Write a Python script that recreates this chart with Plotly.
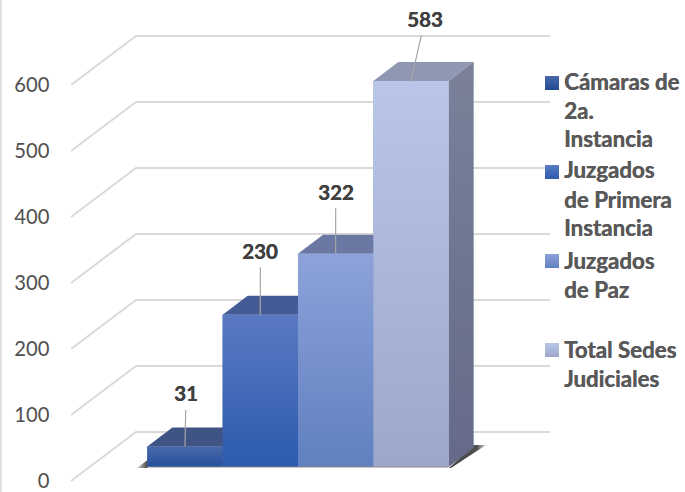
import plotly.graph_objects as go

categories = ["Cámaras de 2a. Instancia", "Juzgados de Primera Instancia", "Juzgados de Paz", "Total Sedes Judiciales"]
values = [31, 230, 322, 583]
tick_values = [0, 100, 200, 300, 400, 500, 600]
legend_lines = [["Cámaras de", "2a.", "Instancia"], ["Juzgados", "de Primera", "Instancia"], ["Juzgados", "de Paz"], ["Total Sedes", "Judiciales"]]
legend_line_px = [[81, 110, 139], [169, 199, 228], [260, 289], [349, 378]]
legend_swatch_px = [76, 165, 254, 343]
label_offsets = [(1, -53), (0, -64), (0, -62), (14, -62)]

front_colors = [
    ["#4a69aa", "#24509c"], ["#5a7ac2", "#2c5aad"], ["#8da2da", "#6080c0"], ["#bac6e8", "#9ca7cc"]]
top_colors = ["#3f5385", "#445b95", "#6a78a3", "#9097b2"]
side_colors = [["#3a4c7c", "#2c3e6c"], ["#3f5590", "#2f4780"], ["#5f7099", "#4f5f8a"], ["#7a8199", "#646a88"]]
swatch_colors = [["#4a69aa", "#1f4a90"], ["#5a7ac2", "#2c5aad"], ["#8da2da", "#6080c0"], ["#bac6e8", "#9ca7cc"]]

W, H = 685, 492
X0, XU = 185.0, 75.33
Y0, YU = 481.0, 0.66       # front plane of the value axis
B0, BU = 467.0, 0.662      # bar plane
DX, DY = 25 / XU, 19 / BU

xr = [(0 - X0) / XU, (W - X0) / XU]
yr = [(Y0 - H) / YU, Y0 / YU]
y2r = [(B0 - H) / BU, B0 / BU]


def xp(px):
    return (px - X0) / XU


def y2p(py):
    return (B0 - py) / BU


fig = go.Figure()

# gridlines: front-left diagonal then back wall
gx, gy = [], []
for v in tick_values:
    gx += [xp(71), xp(136), xp(550), None]
    gy += [v, v + 49 / YU, v + 49 / YU, None]
fig.add_trace(go.Scatter(x=gx, y=gy, mode="lines", line=dict(color="#d9d9d9", width=2), hoverinfo="skip", showlegend=False))

# plain bars
for i, (c, v) in enumerate(zip(categories, values)):
    fig.add_trace(go.Bar(x=[i], y=[v], width=1, yaxis="y2", name=c, marker=dict(color=front_colors[i][1], line=dict(width=0)), showlegend=False))


def poly(xs, ys, top, bottom):
    fig.add_trace(go.Scatter(
        x=xs, y=ys, yaxis="y2", mode="none", fill="toself", hoverinfo="skip", showlegend=False,
        fillgradient=dict(type="vertical", colorscale=[[0, bottom], [1, top]])))


# base shadows
fig.add_trace(go.Scatter(x=[xp(137), xp(147.5), xp(147.5), xp(137)], y=[y2p(468), y2p(460), y2p(468), y2p(468)], yaxis="y2", mode="none", fill="toself", hoverinfo="skip", showlegend=False,
                         fillgradient=dict(type="horizontal", colorscale=[[0, "#d8d8d8"], [1, "#444444"]])))
fig.add_trace(go.Scatter(x=[xp(449), xp(474), xp(486), xp(451), xp(449)], y=[y2p(468), y2p(445), y2p(445), y2p(468), y2p(468)], yaxis="y2", mode="none", fill="toself", hoverinfo="skip", showlegend=False,
                         fillgradient=dict(type="horizontal", colorscale=[[0, "#444444"], [0.75, "#505050"], [1, "#d8d8d8"]])))

for i, v in enumerate(values):
    l, r = i - 0.5, i + 0.5
    # top face
    fig.add_trace(go.Scatter(x=[l, l + DX, r + DX, r, l], y=[v, v + DY, v + DY, v, v], yaxis="y2", mode="none", fill="toself",
                             fillcolor=top_colors[i], hoverinfo="skip", showlegend=False))
    # side face
    poly([r, r + DX, r + DX, r, r], [0, DY, v + DY, v, 0], side_colors[i][0], side_colors[i][1])
    # front face
    poly([l, r, r, l, l], [0, 0, v, v, 0], front_colors[i][0], front_colors[i][1])

# base edge
fig.add_trace(go.Scatter(x=[-0.5, 3.5], y=[0, 0], yaxis="y2", mode="lines", line=dict(color="#8a8a8a", width=1), hoverinfo="skip", showlegend=False))

# legend swatches
for py, cols in zip(legend_swatch_px, swatch_colors):
    poly([xp(545), xp(559), xp(559), xp(545), xp(545)], [y2p(py + 14), y2p(py + 14), y2p(py), y2p(py), y2p(py + 14)], cols[0], cols[1])

annotations = []
for i, v in enumerate(values):
    annotations.append(dict(x=i, y=v, xref="x", yref="y2", text=f"<b>{v}</b>", showarrow=True, arrowhead=0, arrowwidth=1.2,
                            arrowcolor="#a6a6a6", ax=label_offsets[i][0], ay=label_offsets[i][1], axref="pixel", ayref="pixel",
                            font=dict(family="Lato", size=20.5, color="#404040", shadow="0.4px 0 0 #404040"), standoff=0, startstandoff=3))
for lines, pys in zip(legend_lines, legend_line_px):
    for t, py in zip(lines, pys):
        annotations.append(dict(x=564 / W, y=1 - py / H, xref="paper", yref="paper", xanchor="left", yanchor="middle", showarrow=False,
                                text=f"<b>{t}</b>", font=dict(family="Lato", size=22.3, color="#595959", shadow="0.4px 0 0 #595959"), xshift=-2))

fig.update_layout(
    width=W, height=H, margin=dict(l=0, r=0, t=0, b=0), paper_bgcolor="white", plot_bgcolor="rgba(0,0,0,0)",
    barmode="overlay", showlegend=False, font=dict(family="Lato"),
    xaxis=dict(range=xr, visible=False, fixedrange=True),
    yaxis=dict(range=yr, tickmode="array", tickvals=tick_values, ticktext=[str(t) for t in tick_values], showgrid=False, zeroline=False, showline=False,
               ticks="", tickfont=dict(family="Lato", size=20.2, color="#505050"), ticklabeloverflow="allow", anchor="free", position=49.5 / W, side="left", fixedrange=True),
    yaxis2=dict(range=y2r, overlaying="y", visible=False, fixedrange=True),
    annotations=annotations,
    shapes=[dict(type="line", xref="paper", yref="paper", x0=1 / W, x1=1 / W, y0=0, y1=1, line=dict(color="#d4d4d4", width=1.5))],
)
fig.write_html("out.html", config={"displayModeBar": False}, post_script="document.body.style.margin='0';document.body.style.overflow='hidden';")
